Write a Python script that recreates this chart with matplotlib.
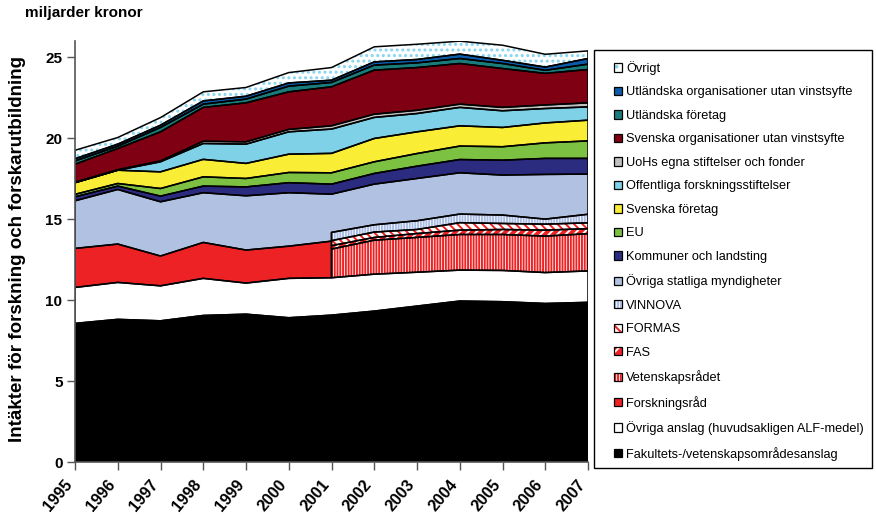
import numpy as np
import matplotlib
matplotlib.use('Agg')
import matplotlib.pyplot as plt
import matplotlib.transforms as mtrans
from matplotlib.patches import Patch, Rectangle
from matplotlib.legend_handler import HandlerTuple

plt.rcParams['font.family'] = ['Liberation Sans', 'DejaVu Sans']
plt.rcParams['hatch.linewidth'] = 1.4

nan = np.nan
years = np.arange(1995, 2008)

# values in miljarder kronor, bottom of the stack first
fakultets     = [8.56, 8.81, 8.72, 9.05, 9.13, 8.91, 9.07, 9.32, 9.63, 9.94, 9.90, 9.79, 9.86]
ovriga_anslag = [2.22, 2.28, 2.16, 2.29, 1.92, 2.43, 2.31, 2.28, 2.09, 1.91, 1.93, 1.91, 1.94]
forskningsrad = [2.41, 2.37, 1.84, 2.22, 2.04, 1.99, 2.26, nan, nan, nan, nan, nan, nan]
vetenskapsradet = [nan, nan, nan, nan, nan, nan, 1.77, 2.10, 2.15, 2.20, 2.22, 2.25, 2.30]
fas           = [nan, nan, nan, nan, nan, nan, 0.21, 0.17, 0.24, 0.27, 0.31, 0.37, 0.31]
formas        = [nan, nan, nan, nan, nan, nan, 0.31, 0.33, 0.25, 0.46, 0.37, 0.37, 0.36]
vinnova       = [nan, nan, nan, nan, nan, nan, 0.51, 0.45, 0.54, 0.53, 0.52, 0.31, 0.53]
ovriga_statliga = [2.94, 3.37, 3.35, 3.07, 3.35, 3.30, 2.36, 2.51, 2.61, 2.55, 2.47, 2.76, 2.48]
kommuner      = [0.25, 0.21, 0.35, 0.41, 0.55, 0.62, 0.62, 0.66, 0.76, 0.82, 0.92, 0.99, 0.97]
eu            = [0.15, 0.16, 0.47, 0.57, 0.52, 0.63, 0.70, 0.72, 0.78, 0.83, 0.83, 0.96, 1.08]
svenska_foretag = [0.72, 0.82, 1.03, 1.08, 0.93, 1.13, 1.20, 1.44, 1.34, 1.25, 1.19, 1.23, 1.28]
offentliga    = [0.00, 0.00, 0.62, 0.98, 1.19, 1.38, 1.50, 1.30, 1.13, 1.14, 1.03, 0.89, 0.82]
uohs          = [0.03, 0.03, 0.05, 0.14, 0.14, 0.15, 0.20, 0.20, 0.20, 0.20, 0.21, 0.22, 0.25]
svenska_org   = [1.11, 1.31, 1.80, 2.09, 2.41, 2.32, 2.41, 2.72, 2.64, 2.51, 2.40, 1.95, 2.06]
utl_foretag   = [0.20, 0.14, 0.27, 0.20, 0.23, 0.35, 0.27, 0.31, 0.29, 0.31, 0.31, 0.19, 0.33]
utl_org       = [0.14, 0.13, 0.14, 0.20, 0.18, 0.20, 0.14, 0.20, 0.21, 0.27, 0.20, 0.20, 0.35]
ovrigt        = [0.52, 0.41, 0.47, 0.56, 0.54, 0.64, 0.78, 0.93, 0.94, 0.80, 0.93, 0.79, 0.47]

fig = plt.figure(figsize=(8.76, 5.15), dpi=100)
ax = fig.add_axes([75/876, 1-462/515, (588-75)/876, (462-41)/515])

outl = []

def layer(x, lo, hi, fc, hatch=None, hc=None):
    if hatch:
        ax.fill_between(x, lo, hi, facecolor=fc, edgecolor=hc, hatch=hatch,
                        linewidth=0, zorder=1)
    else:
        ax.fill_between(x, lo, hi, facecolor=fc, edgecolor='none', linewidth=0, zorder=1)
    outl.append((x, lo, hi))

A = lambda v: np.asarray(v, dtype=float)

top = np.zeros(len(years))
layer(years, top, top + A(fakultets), 'black'); top = top + A(fakultets)
layer(years, top, top + A(ovriga_anslag), 'white'); top = top + A(ovriga_anslag)
white_top = top.copy()

fr = A(forskningsrad)
frm = ~np.isnan(fr)
layer(years[frm], white_top[frm], white_top[frm] + fr[frm], '#ED2224')
fr_top = white_top + np.nan_to_num(fr)

cm = ~np.isnan(A(vetenskapsradet))
ctop = white_top.copy()
council_styles = [
    (vetenskapsradet, 'white', '||||||', '#ED2224'),
    (fas, '#ED2224', '////', 'white'),
    (formas, 'white', '\\\\\\\\', '#ED2224'),
    (vinnova, 'white', '||||||', '#A9BCE4'),
]
for vals, fc, h, hc in council_styles:
    v = A(vals)
    layer(years[cm], ctop[cm], ctop[cm] + v[cm], fc, h, hc)
    ctop = ctop + np.nan_to_num(v)

group_top = np.where(cm, ctop, fr_top)

# Övriga statliga: base switches at 2001 between the two research-council systems
ost_top = group_top + A(ovriga_statliga)
x14 = np.concatenate([years[frm], years[cm]])
lo14 = np.concatenate([fr_top[frm], ctop[cm]])
hi14 = np.concatenate([ost_top[frm], ost_top[cm]])
layer(x14, lo14, hi14, '#B1C1E1')

DOT = '#86D4F0'
top = ost_top
upper_styles = [
    (kommuner, '#2B2B7F', None, None),
    (eu, '#7DC142', None, None),
    (svenska_foretag, '#F9EE35', None, None),
    (offentliga, '#7ED1E6', None, None),
    (uohs, '#C0C0C0', None, None),
    (svenska_org, '#7F0012', None, None),
    (utl_foretag, '#1A7B7B', None, None),
    (utl_org, '#0B5BA8', None, None),
    (ovrigt, 'white', '...', DOT),
]
for vals, fc, h, hc in upper_styles:
    v = A(vals)
    layer(years, top, top + v, fc, h, hc)
    top = top + v

for x, lo, hi in outl:
    ax.fill_between(x, lo, hi, facecolor='none', edgecolor='black', linewidth=1.1, zorder=2)

ax.set_xlim(1995, 2007)
ax.set_ylim(0, 26)
ax.set_yticks([0, 5, 10, 15, 20, 25])
ax.set_xticks(years)
ax.set_xticklabels([str(y) for y in years], rotation=50, ha='right', va='center',
                   rotation_mode='anchor', fontsize=11.5, fontweight='bold')
for lab in ax.get_yticklabels():
    lab.set_fontweight('bold')
    lab.set_fontsize(11)
ax.tick_params(axis='both', direction='out', length=6, width=1, color='#555555')
ax.tick_params(axis='x', pad=8)
ax.tick_params(axis='y', pad=3)
off = mtrans.ScaledTranslation(-5/100, 0, fig.dpi_scale_trans)
for lab in ax.get_xticklabels():
    lab.set_transform(lab.get_transform() + off)
for s in ['top', 'right']:
    ax.spines[s].set_visible(False)
for s in ['left', 'bottom']:
    ax.spines[s].set_color('#555555')
    ax.spines[s].set_linewidth(1.2)
    ax.spines[s].set_zorder(3)

ax.set_ylabel('Intäkter för forskning och forskarutbildning', fontsize=13.5, fontweight='bold')
ax.yaxis.set_label_coords(-0.095, 0.505)
fig.text(25/876, 1-17/515, 'miljarder kronor', fontsize=11, fontweight='bold', va='baseline')

# legend
labels = ['Övrigt', 'Utländska organisationer utan vinstsyfte', 'Utländska företag',
          'Svenska organisationer utan vinstsyfte', 'UoHs egna stiftelser och fonder',
          'Offentliga forskningsstiftelser', 'Svenska företag', 'EU',
          'Kommuner och landsting', 'Övriga statliga myndigheter', 'VINNOVA', 'FORMAS',
          'FAS', 'Vetenskapsrådet', 'Forskningsråd',
          'Övriga anslag (huvudsakligen ALF-medel)',
          'Fakultets-/vetenskapsområdesanslag']
handle_styles = [
    ('white', '..', DOT), ('#0B5BA8', None, None), ('#1A7B7B', None, None),
    ('#7F0012', None, None), ('#C0C0C0', None, None), ('#7ED1E6', None, None),
    ('#F9EE35', None, None), ('#7DC142', None, None), ('#2B2B7F', None, None),
    ('#B1C1E1', None, None), ('white', '||||||', '#A9BCE4'), ('white', '\\\\\\', '#ED2224'),
    ('#ED2224', '///', 'white'), ('white', '||||||', '#ED2224'), ('#ED2224', None, None),
    ('white', None, None), ('black', None, None)]
handles = []
for fc, h, hc in handle_styles:
    p1 = Patch(facecolor=fc, edgecolor=hc if hc else 'none', linewidth=0, hatch=h)
    p2 = Patch(facecolor='none', edgecolor='black', linewidth=0.9)
    handles.append((p1, p2))
leg = fig.legend(handles, labels, loc='upper left', bbox_to_anchor=(614/876, 1-61/515),
                 frameon=False, fontsize=9.2, handlelength=0.62, handleheight=0.62,
                 handletextpad=0.35, labelspacing=0.9, borderpad=0, borderaxespad=0,
                 handler_map={tuple: HandlerTuple(ndivide=1, pad=0)})
fig.patches.append(Rectangle((594/876, 1-468/515), (872-594)/876, (468-50)/515,
                             transform=fig.transFigure, facecolor='none',
                             edgecolor='black', linewidth=1.0))

fig.savefig('out.png', dpi=100)
